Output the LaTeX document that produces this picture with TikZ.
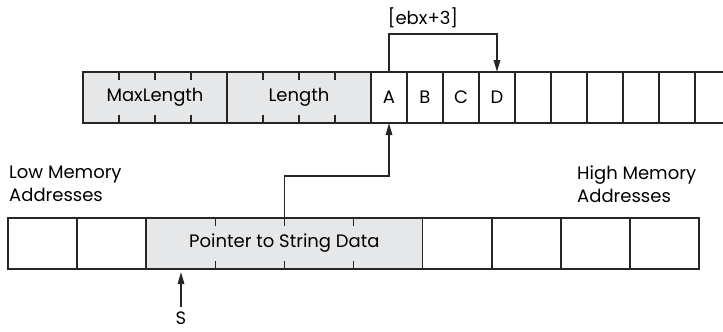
\documentclass[tikz,border=0pt]{standalone}
\usepackage{fontspec}
\setmainfont{Poppins}
\usetikzlibrary{arrows.meta,positioning,calc}
\definecolor{cellgray}{HTML}{E6E7E8}
\colorlet{cline}{black!85}
\tikzset{
  byte/.style={draw=cline, line width=1.6pt, minimum width=36pt, minimum height=51pt,
    inner sep=0pt, outer sep=0pt, font=\fontsize{18}{21}\selectfont},
  word/.style={byte, minimum width=69.1pt},
  tickmark/.style={draw=cline, line width=1.6pt},
  ptrarrow/.style={draw=cline, line width=1.6pt, -{Triangle[length=12pt,width=6.5pt]}},
  label/.style={font=\fontsize{18}{23}\selectfont, inner sep=0pt, align=left}
}

\begin{document}
\begin{tikzpicture}[x=1pt, y=-1pt]
\useasboundingbox (0,0) rectangle (723,332);
% string data row
\node[byte, fill=cellgray, minimum width=144pt] (maxlen) at (155,97.5) {MaxLength};
\node[byte, fill=cellgray, minimum width=144pt, right=0pt of maxlen] (len) {Length};
\node[byte, right=0pt of len] (cA) {A};
\node[byte, right=0pt of cA] (cB) {B};
\node[byte, right=0pt of cB] (cC) {C};
\node[byte, right=0pt of cC] (cD) {D};
\node[byte, right=0pt of cD] (e1) {};
\node[byte, right=0pt of e1] (e2) {};
\node[byte, right=0pt of e2] (e3) {};
\node[byte, right=0pt of e3] (e4) {};
\node[byte, right=0pt of e4] (e5) {};
\draw[tickmark] (e5.north east) -- ++(28,0);
\draw[tickmark] (e5.south east) -- ++(28,0);
\foreach \n in {maxlen,len} \foreach \dx in {-36,0,36} {
  \draw[tickmark] ([xshift=\dx pt]\n.north) -- ++(0,8);
  \draw[tickmark] ([xshift=\dx pt]\n.south) -- ++(0,-8);
}
% variable row
\node[word] (w1) at (42.55,243.5) {};
\node[word, right=0pt of w1] (w2) {};
\node[word, fill=cellgray, minimum width=276.4pt, right=0pt of w2] (ptr) {Pointer to String Data};
\node[word, right=0pt of ptr] (w7) {};
\node[word, right=0pt of w7] (w8) {};
\node[word, right=0pt of w8] (w9) {};
\node[word, right=0pt of w9] (w10) {};
\foreach \dx in {-69.1,0,69.1} {
  \draw[tickmark] ([xshift=\dx pt]ptr.north) -- ++(0,8);
  \draw[tickmark] ([xshift=\dx pt]ptr.south) -- ++(0,-8);
}
\node[label, anchor=north west] (low) at (9,166) {Low Memory\\Addresses};
\node[label, anchor=north west] (high) at (577,166) {High Memory\\Addresses};
% pointers
\draw[ptrarrow] (ptr.north) -- ++(0,-42) -| (cA.south);
\draw[ptrarrow] (cA.north) -- ++(0,-38) -| (cD.north);
\node[font=\fontsize{18}{21}\selectfont] (offset) at (423,18) {[ebx+3]};
\node[font=\fontsize{18}{21}\selectfont] (s) at (181,318) {S};
\draw[ptrarrow, shorten <=1pt, shorten >=3pt] (s.north) -- (s.north |- ptr.south);
\end{tikzpicture}
\end{document}
